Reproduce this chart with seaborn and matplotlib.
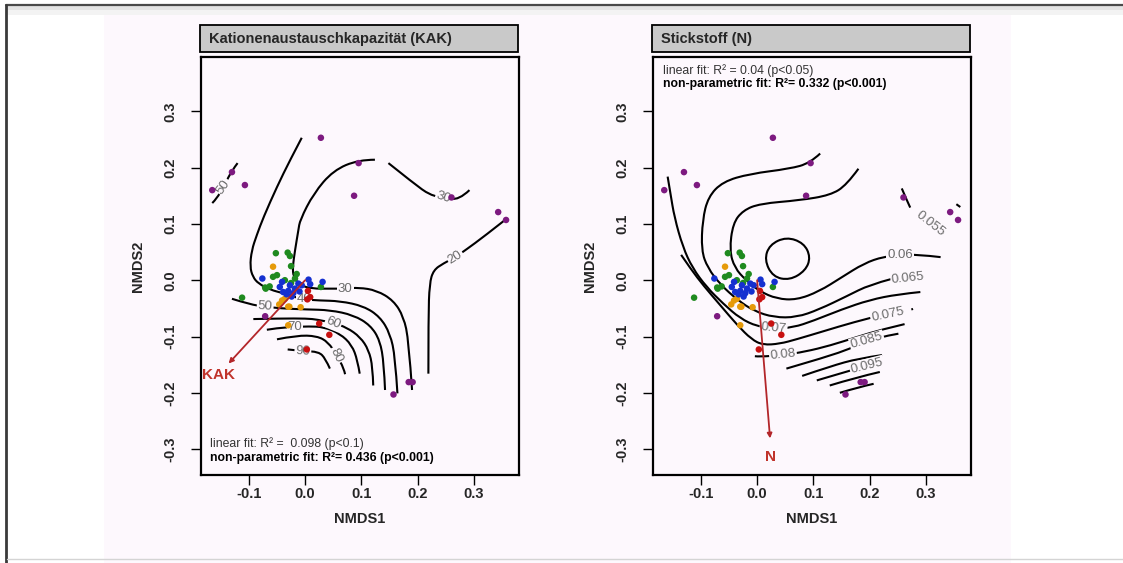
import numpy as np
import pandas as pd
import matplotlib
matplotlib.use("Agg")
import matplotlib.pyplot as plt
import seaborn as sns
from matplotlib.patches import Rectangle, PathPatch
from matplotlib.path import Path
from matplotlib.lines import Line2D

sns.set_theme(style="white")
plt.rcParams["font.family"] = ["Liberation Sans", "DejaVu Sans"]

# ---------------- data (NMDS site scores) ----------------
purple_x = [-0.165, -0.130, -0.107, 0.028, 0.095, 0.087, 0.260, 0.343, 0.357, -0.071, 0.157, 0.184, 0.191]
purple_y = [0.160, 0.192, 0.169, 0.253, 0.208, 0.150, 0.147, 0.121, 0.107, -0.064, -0.203, -0.181, -0.181]
green_x = [-0.052, -0.031, -0.027, -0.025, -0.050, -0.057, -0.071, -0.063, -0.112, -0.018, -0.025, -0.036, 0.028, -0.015, -0.070]
green_y = [0.048, 0.049, 0.043, 0.025, 0.009, 0.006, -0.013, -0.011, -0.031, 0.003, -0.005, 0.000, -0.012, 0.011, -0.015]
orange_x = [-0.057, -0.041, -0.046, -0.030, -0.008, -0.030, -0.036, -0.028]
orange_y = [0.024, -0.036, -0.043, -0.047, -0.048, -0.080, -0.033, -0.047]
blue_x = [-0.076, -0.041, -0.039, -0.030, -0.021, -0.018, -0.012, -0.006, 0.006, 0.009, 0.031, -0.033, -0.024, -0.027, -0.045, -0.010]
blue_y = [0.003, -0.003, -0.021, -0.019, -0.023, -0.015, -0.006, -0.009, 0.001, -0.007, -0.003, -0.025, -0.029, -0.009, -0.012, -0.020]
red_x = [0.005, 0.009, 0.004, 0.025, 0.043, 0.003]
red_y = [-0.019, -0.030, -0.034, -0.077, -0.097, -0.123]

# fitted vectors (arrow tips) and fit statistics
kak_vec = (-0.136, -0.148)
n_vec = (0.023, -0.281)
kak_fit = ["linear fit: R² =  0.098 (p<0.1)", "non-parametric fit: R²= 0.436 (p<0.001)"]
n_fit = ["linear fit: R² = 0.04 (p<0.05)", "non-parametric fit: R²= 0.332 (p<0.001)"]
titles = ["Kationenaustauschkapazität (KAK)", "Stickstoff (N)"]
xticks = [-0.1, 0.0, 0.1, 0.2, 0.3]
yticks = [-0.3, -0.2, -0.1, 0.0, 0.1, 0.2, 0.3]

# ordisurf contour lines (level, path)
kak_contours = [
    (50, [(-0.165, 0.137), (-0.157, 0.145), (-0.145, 0.166), (-0.130, 0.195), (-0.120, 0.208)]),
    (40, [(-0.006, 0.253), (-0.027, 0.213), (-0.050, 0.166), (-0.074, 0.112), (-0.086, 0.080),
          (-0.095, 0.053), (-0.098, 0.024), (-0.093, 0.006), (-0.083, -0.006), (-0.062, -0.017),
          (-0.039, -0.023), (-0.018, -0.030), (-0.002, -0.034), (0.024, -0.036), (0.062, -0.037),
          (0.104, -0.046), (0.133, -0.065), (0.151, -0.095), (0.160, -0.136), (0.164, -0.201)]),
    (30, [(0.292, 0.160), (0.273, 0.142), (0.246, 0.147), (0.222, 0.151), (0.193, 0.172),
          (0.148, 0.208)]),
    (30, [(0.124, 0.214), (0.095, 0.214), (0.050, 0.195), (0.015, 0.154), (-0.009, 0.107),
          (-0.012, 0.089), (-0.018, 0.053), (-0.022, 0.024), (-0.021, 0.006), (-0.009, -0.009),
          (0.012, -0.015), (0.044, -0.015), (0.071, -0.015), (0.095, -0.013), (0.127, -0.018),
          (0.157, -0.036), (0.175, -0.065), (0.184, -0.107), (0.190, -0.195)]),
    (20, [(0.219, -0.166), (0.219, -0.065), (0.221, -0.006), (0.228, 0.018), (0.246, 0.030),
          (0.267, 0.041), (0.287, 0.055), (0.317, 0.077), (0.359, 0.110)]),
    (50, [(-0.130, -0.033), (-0.098, -0.043), (-0.071, -0.047), (-0.044, -0.050), (0.003, -0.052),
          (0.044, -0.053), (0.086, -0.062), (0.116, -0.080), (0.133, -0.107), (0.140, -0.148),
          (0.142, -0.195)]),
    (60, [(-0.092, -0.069), (-0.044, -0.068), (0.003, -0.068), (0.022, -0.070), (0.050, -0.076),
          (0.074, -0.084), (0.098, -0.101), (0.113, -0.124), (0.120, -0.154), (0.121, -0.187)]),
    (70, [(-0.068, -0.088), (-0.050, -0.085), (-0.018, -0.083), (0.006, -0.082), (0.033, -0.083),
          (0.062, -0.095), (0.083, -0.115), (0.093, -0.142), (0.097, -0.166)]),
    (80, [(-0.050, -0.105), (-0.015, -0.098), (0.021, -0.099), (0.041, -0.110), (0.056, -0.133),
          (0.069, -0.157), (0.071, -0.167)]),
    (90, [(-0.031, -0.123), (-0.004, -0.126), (0.024, -0.127), (0.036, -0.139), (0.044, -0.157)]),
]
# contour labels: text, position, rotation
kak_labels = [("50", -0.145, 0.166, 55), ("30", 0.246, 0.147, -18), ("20", 0.267, 0.041, 32),
              ("30", 0.071, -0.015, 0), ("40", -0.002, -0.034, 0), ("50", -0.071, -0.047, -3),
              ("60", 0.050, -0.076, -22), ("70", -0.018, -0.083, 0), ("80", 0.056, -0.133, -65),
              ("90", -0.004, -0.126, -3)]

n_contours = [
    (0.055, [(0.257, 0.163), (0.266, 0.142), (0.272, 0.129)]),
    (0.055, [(0.354, 0.135), (0.361, 0.130)]),
    # closed ring around the local minimum (first point repeated at the end)
    (0.055, [(0.052, 0.077), (0.083, 0.066), (0.095, 0.041), (0.086, 0.017), (0.058, 0.000),
             (0.028, 0.006), (0.013, 0.036), (0.022, 0.063), (0.052, 0.077)]),
    (0.060, [(0.180, 0.198), (0.159, 0.169), (0.130, 0.151), (0.076, 0.142), (0.005, 0.136),
             (-0.025, 0.124), (-0.043, 0.101), (-0.049, 0.053), (-0.040, 0.022), (-0.020, 0.000),
             (0.005, -0.020), (0.035, -0.033), (0.070, -0.035), (0.110, -0.020), (0.150, 0.005),
             (0.190, 0.030), (0.225, 0.042), (0.254, 0.044), (0.283, 0.046), (0.326, 0.041)]),
    (0.065, [(0.112, 0.225), (0.094, 0.208), (0.058, 0.198), (-0.013, 0.189), (-0.061, 0.175),
             (-0.087, 0.148), (-0.097, 0.107), (-0.099, 0.053), (-0.088, 0.022), (-0.065, -0.008),
             (-0.035, -0.035), (-0.005, -0.055), (0.030, -0.066), (0.070, -0.066), (0.110, -0.052),
             (0.160, -0.028), (0.200, -0.008), (0.238, 0.002)]),
    (0.070, [(-0.159, 0.184), (-0.154, 0.154), (-0.147, 0.112), (-0.132, 0.059), (-0.115, 0.022),
             (-0.090, -0.012), (-0.060, -0.042), (-0.030, -0.068), (0.000, -0.082), (0.029, -0.086),
             (0.064, -0.084), (0.100, -0.072), (0.150, -0.052), (0.200, -0.035), (0.250, -0.025),
             (0.290, -0.021)]),
    (0.075, [(-0.135, 0.045), (-0.118, 0.020), (-0.095, -0.010), (-0.065, -0.045), (-0.035, -0.080),
             (-0.010, -0.105), (0.010, -0.115), (0.040, -0.113), (0.070, -0.105), (0.120, -0.090),
             (0.170, -0.075), (0.205, -0.066)]),
    (0.075, [(0.274, -0.052), (0.277, -0.051)]),
    (0.080, [(-0.004, -0.135), (0.004, -0.136), (0.046, -0.133), (0.085, -0.127), (0.130, -0.116),
             (0.180, -0.100), (0.220, -0.088), (0.262, -0.078)]),
    (0.085, [(0.052, -0.157), (0.124, -0.136), (0.164, -0.122), (0.195, -0.108), (0.233, -0.098),
             (0.251, -0.095)]),
    (0.090, [(0.080, -0.170), (0.130, -0.153), (0.180, -0.139), (0.222, -0.133)]),
    (0.095, [(0.106, -0.178), (0.150, -0.165), (0.195, -0.152), (0.218, -0.148)]),
    (0.100, [(0.129, -0.187), (0.175, -0.173), (0.218, -0.163)]),
    (0.105, [(0.147, -0.200), (0.180, -0.190), (0.207, -0.184)]),
]
n_labels = [("0.055", 0.308, 0.101, -38), ("0.06", 0.254, 0.044, 0), ("0.065", 0.268, 0.004, 6),
            ("0.07", 0.029, -0.086, -5), ("0.075", 0.232, -0.062, 12), ("0.08", 0.046, -0.133, 6),
            ("0.085", 0.195, -0.108, 16), ("0.095", 0.195, -0.152, 14)]

# ---------------- figure ----------------
W, H = 1123, 563
fig = plt.figure(figsize=(W / 100, H / 100), dpi=100)
fig.patch.set_facecolor("white")
BG = "#fdf8fd"


def fx(px):
    return px / W


def fy(py):
    return 1 - py / H


def smooth_path(points):
    """Quadratic-Bezier path using the read points as control points (rendering only)."""
    pts = np.asarray(points, dtype=float)
    if len(pts) < 3:
        return Path(pts)
    if np.allclose(pts[0], pts[-1]):  # closed ring
        pts = pts[:-1]
        n = len(pts)
        mids = [(pts[i] + pts[(i + 1) % n]) / 2 for i in range(n)]
        verts = [mids[0]]
        codes = [Path.MOVETO]
        for i in range(n):
            verts += [pts[(i + 1) % n], mids[(i + 1) % n]]
            codes += [Path.CURVE3, Path.CURVE3]
        return Path(verts, codes)
    verts = [pts[0]]
    codes = [Path.MOVETO]
    for i in range(1, len(pts) - 1):
        end = pts[i + 1] if i == len(pts) - 2 else (pts[i] + pts[i + 1]) / 2
        verts += [pts[i], end]
        codes += [Path.CURVE3, Path.CURVE3]
    return Path(verts, codes)


# screenshot frame and panel background
fig.add_artist(Rectangle((fx(104), 0), fx(1011) - fx(104), fy(15), transform=fig.transFigure,
                         facecolor=BG, edgecolor="none", zorder=0))
fig.add_artist(Rectangle((fx(7), fy(10)), 1 - fx(7), fy(6) - fy(10), transform=fig.transFigure,
                         facecolor="#e4e4e4", edgecolor="none", zorder=0))
fig.add_artist(Rectangle((fx(7), fy(15)), 1 - fx(7), fy(10) - fy(15), transform=fig.transFigure,
                         facecolor="#f3f3f3", edgecolor="none", zorder=0))
fig.add_artist(Line2D([fx(6), 1], [fy(5), fy(5)], transform=fig.transFigure, color="#4a4a4a", lw=1.6))
fig.add_artist(Line2D([fx(6), fx(6)], [0, fy(5)], transform=fig.transFigure, color="#3a3a3a", lw=2.0))
fig.add_artist(Line2D([fx(7), 1], [fy(559), fy(559)], transform=fig.transFigure, color="#d4d4d4", lw=1.0))

df = pd.DataFrame({
    "NMDS1": purple_x + green_x + orange_x + blue_x + red_x,
    "NMDS2": purple_y + green_y + orange_y + blue_y + red_y,
    "group": (["purple"] * len(purple_x) + ["green"] * len(green_x) + ["orange"] * len(orange_x)
              + ["blue"] * len(blue_x) + ["red"] * len(red_x)),
})
palette = {"purple": "#7d1a80", "green": "#1f8a1f", "orange": "#e69a0a", "blue": "#1530d0", "red": "#c81010"}

panels = [
    dict(left=201, title=titles[0], contours=kak_contours, labels=kak_labels, vec=kak_vec,
         vname="KAK", vlabel=(-0.154, -0.168), fit=kak_fit, fitpos=(-0.169, -0.290, -0.316)),
    dict(left=653, title=titles[1], contours=n_contours, labels=n_labels, vec=n_vec,
         vname="N", vlabel=(0.024, -0.314), fit=n_fit, fitpos=(-0.168, 0.373, 0.348)),
]

ARROW = "#b3262a"
for p in panels:
    L = p["left"]
    ax = fig.add_axes([fx(L), fy(475), fx(318), fy(56.7) - fy(475)])
    ax.set_facecolor(BG)
    ax.set_xlim(-0.185, 0.380)
    ax.set_ylim(-0.346, 0.397)

    for lev, path in p["contours"]:
        ax.add_patch(PathPatch(smooth_path(path), facecolor="none", edgecolor="black", lw=1.5,
                               joinstyle="round", capstyle="butt", zorder=2))
    for txt, x, y, rot in p["labels"]:
        ax.text(x, y, txt, rotation=rot, ha="center", va="center", rotation_mode="anchor",
                color="#6a6a6a", fontsize=9.5, zorder=3,
                bbox=dict(boxstyle="square,pad=0.08", fc=BG, ec="none"))

    sns.scatterplot(data=df, x="NMDS1", y="NMDS2", hue="group", palette=palette, s=22,
                    edgecolor="none", linewidth=0, legend=False, ax=ax, zorder=5)

    ax.annotate("", xy=p["vec"], xytext=(0.0, 0.0),
                arrowprops=dict(arrowstyle="-|>", color=ARROW, lw=1.3, mutation_scale=7,
                                shrinkA=0, shrinkB=0), zorder=6)
    ax.text(p["vlabel"][0], p["vlabel"][1], p["vname"], color="#c0332b", fontsize=11,
            fontweight="bold", ha="center", va="center", zorder=6)

    fxp, y1, y2 = p["fitpos"]
    ax.text(fxp, y1, p["fit"][0], fontsize=8.8, color="#333333", ha="left", va="center", zorder=6)
    ax.text(fxp, y2, p["fit"][1], fontsize=8.8, fontweight="bold", color="black", ha="left",
            va="center", zorder=6)

    ax.set_xticks(xticks)
    ax.set_yticks(yticks)
    ax.set_xticklabels([f"{v:.1f}" for v in xticks], fontweight="bold", fontsize=10.5)
    ax.set_yticklabels([f"{v:.1f}" for v in yticks], fontweight="bold", fontsize=10.5,
                       rotation=90, va="center")
    ax.tick_params(axis="both", direction="out", length=7, width=1.0, color="black",
                   bottom=True, left=True)
    ax.tick_params(axis="x", pad=1.5)
    ax.tick_params(axis="y", pad=10)
    for s in ax.spines.values():
        s.set_visible(True)
        s.set_color("black")
        s.set_linewidth(1.6)
    ax.set_xlabel("NMDS1", fontweight="bold", fontsize=10.5, labelpad=8)
    ax.set_ylabel("NMDS2", fontweight="bold", fontsize=10.5, labelpad=13)

    # title strip
    fig.add_artist(Rectangle((fx(L - 1), fy(52.3)), fx(318), fy(25) - fy(52.3), transform=fig.transFigure,
                             facecolor="#c9c9c9", edgecolor="black", lw=1.3, zorder=3))
    fig.text(fx(L + 8), fy(38.8), p["title"], fontweight="bold", fontsize=10.5, ha="left",
             va="center", zorder=4)

fig.savefig("out.png", dpi=100, facecolor=fig.get_facecolor())
